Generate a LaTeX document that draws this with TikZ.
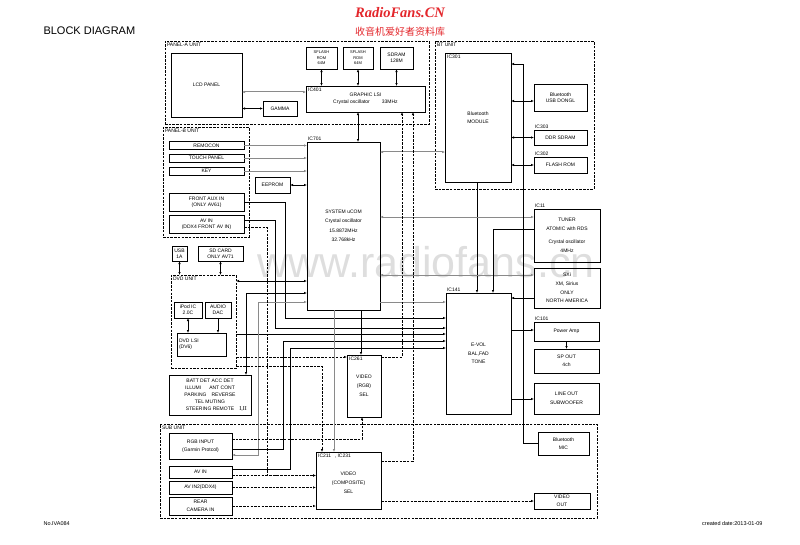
\documentclass[tikz,border=0pt]{standalone}
\usepackage{fontspec}
\setmainfont{Liberation Sans}
\newfontfamily\cjk{Noto Sans CJK SC}
\newfontfamily\tms{Liberation Serif}
\usetikzlibrary{arrows.meta}
\definecolor{wmred}{HTML}{E3262B}
\definecolor{wmgray}{HTML}{DEDEDE}
\definecolor{lngray}{HTML}{8A8A8A}

\begin{document}
\begin{tikzpicture}[x=1pt, y=-1pt,
  >={Latex[length=3pt, width=2.4pt]},
  blk/.style={draw, line width=0.6pt, inner sep=0.5pt, outer sep=0pt, align=center,
              font=\fontsize{5}{6.4}\selectfont},
  unit/.style={draw, line width=0.7pt, dash pattern=on 2.5pt off 1.2pt, inner sep=0pt, outer sep=0pt},
  unitlbl/.style={anchor=north west, inner sep=1.8pt, font=\fontsize{5}{6}\selectfont},
  iclbl/.style={anchor=south west, inner sep=0.8pt, font=\fontsize{5}{6}\selectfont},
  icin/.style={anchor=north west, inner sep=2pt, font=\fontsize{5}{6}\selectfont},
  wire/.style={line width=0.6pt},
  gwire/.style={line width=0.6pt, draw=lngray},
  dwire/.style={line width=0.7pt, dash pattern=on 2.5pt off 1.2pt},
  dbl/.style={draw=lngray, double=white, double distance=0.8pt, line width=0.4pt},
]
\useasboundingbox (0,0) rectangle (800,544);

% watermark and title
\node[font=\fontsize{43}{48}\selectfont, text=wmgray] (wmbig) at (426,262) {www.radiofans.cn};
\node[font=\tms\bfseries\itshape\fontsize{14.5}{16}\selectfont, text=wmred] (wmtop) at (400,13) {RadioFans.CN};
\node[font=\cjk\fontsize{10}{12}\selectfont, text=wmred] (wmcn) at (400,32) {收音机爱好者资料库};
\node[anchor=west, font=\fontsize{11}{13}\selectfont] (title) at (40,31) {BLOCK DIAGRAM};
\node[anchor=west, font=\fontsize{5.5}{6}\selectfont] (docno) at (40,524) {No.IVA084};
\node[anchor=east, font=\fontsize{5.5}{6}\selectfont] (cdate) at (766,524) {created date:2013-01-09};

% ---------------- PANEL-A ----------------
\node[unit, minimum width=264pt, minimum height=83pt, label={[unitlbl]north west:PANEL-A UNIT}] (panela) at (297,82.5) {};
\node[blk, minimum width=71pt, minimum height=64pt] (lcd) at (206.5,85) {LCD PANEL};
\node[blk, minimum width=34pt, minimum height=15pt] (gamma) at (280,108.5) {GAMMA};
\node[blk, minimum width=119pt, minimum height=26pt, label={[icin]north west:IC401}] (ic401) at (365.5,99)
  {GRAPHIC LSI\\[1pt]Crystal oscillator\hspace{12pt}33MHz};
\node[blk, minimum width=31pt, minimum height=22pt, font=\fontsize{4}{5.6}\selectfont] (rom1) at (321.5,58) {SFLASH\\ROM\\64M};
\node[blk, minimum width=30pt, minimum height=22pt, font=\fontsize{4}{5.6}\selectfont] (rom2) at (358,58) {SFLASH\\ROM\\64M};
\node[blk, minimum width=33pt, minimum height=22pt] (sdram) at (396.5,58) {SDRAM\\128M};

\draw[dbl, <->] (lcd.east |- 0,92) -- (ic401.west |- 0,92);
\draw[wire, <->] (lcd.east |- gamma.west) -- (gamma.west);
\foreach \m in {rom1, rom2, sdram}
  \draw[wire, <->] (\m.south) -- (\m.south |- ic401.north);

% ---------------- PANEL-B ----------------
\node[unit, minimum width=86pt, minimum height=110pt, label={[unitlbl]north west:PANEL-B UNIT}] (panelb) at (206,182) {};
\node[blk, minimum width=75pt, minimum height=8pt] (remocon) at (206.5,145.5) {REMOCON};
\node[blk, minimum width=75pt, minimum height=8pt] (touch) at (206.5,158) {TOUCH PANEL};
\node[blk, minimum width=75pt, minimum height=8pt] (key) at (206.5,171) {KEY};
\node[blk, minimum width=75pt, minimum height=18pt] (frontaux) at (206.5,202) {FRONT AUX IN\\(ONLY AV61)};
\node[blk, minimum width=75pt, minimum height=18pt] (avin) at (206.5,224) {AV IN\\(DDX4 FRONT AV IN)};
\node[blk, minimum width=35pt, minimum height=16pt] (eeprom) at (272.5,185) {EEPROM};

% ---------------- IC701 ----------------
\node[blk, minimum width=73pt, minimum height=168pt, font=\fontsize{5}{9.5}\selectfont,
      label={[iclbl]north west:IC701}] (ic701) at (343.5,226)
  {SYSTEM uCOM\\Crystal oscillator\\15.8872MHz\\32.768kHz};

\foreach \b in {remocon, touch, key}
  \draw[gwire, ->] (\b.east) -- (\b.east -| ic701.west);
\draw[wire, <->] (eeprom.east) -- (eeprom.east -| ic701.west);
\draw[wire, <->] (ic401.south -| 358,0) -- (ic701.north -| 358,0);

% ---------------- USB / SD / DVD ----------------
\node[blk, minimum width=15pt, minimum height=15pt] (usb) at (179.5,253.5) {USB\\1A};
\node[blk, minimum width=45pt, minimum height=15pt] (sdcard) at (220.5,253.5) {SD CARD\\ONLY AV71};
\node[unit, minimum width=65pt, minimum height=93pt, label={[unitlbl]north west:DVD UNIT}] (dvdunit) at (203.5,321.5) {};
\node[blk, minimum width=28pt, minimum height=16pt] (ipod) at (188,310) {iPod IC\\2.0C};
\node[blk, minimum width=26pt, minimum height=16pt] (dac) at (218,310) {AUDIO\\DAC};
\node[blk, minimum width=49pt, minimum height=23pt, text width=45pt, align=left] (dvdlsi) at (201.5,344.5) {DVD LSI\\(DV6)};
\node[blk, minimum width=82pt, minimum height=40pt, font=\fontsize{5}{7}\selectfont] (batt) at (210,395)
  {BATT DET ACC DET\\ILLUMI\hspace{8pt}ANT CONT\\PARKING\hspace{5pt}REVERSE\\TEL MUTING\\STEERING REMOTE\hspace{22pt}};
\node[font=\tms\fontsize{6}{7}\selectfont, inner sep=0pt] (battno) at (243,409) {I,II};

\draw[wire, <->] (usb.south) -- (usb.south |- dvdunit.north);
\draw[wire, <->] (sdcard.south) -- (sdcard.south |- dvdunit.north);
\draw[wire, <->] (ipod.south) -- (ipod.south |- dvdlsi.north);
\draw[wire, ->] (dac.south) -- (dac.south |- dvdlsi.north);
\draw[wire, <->] (dvdunit.east |- 0,281) -- (ic701.west |- 0,281);
\draw[wire, <->] (batt.north -| 246,0) |- (ic701.west |- 0,293);

% ---------------- IC261 / IC141 ----------------
\node[blk, minimum width=34pt, minimum height=62pt, font=\fontsize{5}{9}\selectfont,
      label={[icin]north west:IC261}] (ic261) at (364,386) {VIDEO\\(RGB)\\SEL};
\node[blk, minimum width=65pt, minimum height=121pt, font=\fontsize{5}{8.5}\selectfont,
      label={[iclbl]north west:IC141}] (ic141) at (478.5,353.5) {E-VOL\\BAL,FAD\\TONE};

\draw[wire, ->] (frontaux.east) -| (285,318) -- (ic141.west |- 0,318);
\draw[wire, ->] (avin.east |- 0,220) -| (275,328) -- (ic141.west |- 0,328);
\draw[wire, ->] (dvdunit.east |- 0,334) -- (ic141.west |- 0,334);
\draw[dwire, ->] (dvdunit.east |- 0,357) -- (ic261.west |- 0,357);
\draw[gwire, ->] (ic701.east |- 0,302) -- (ic141.west |- 0,302);
\draw[wire, ->] (ic701.south -| 361,0) -- (ic261.north -| 361,0);

% ---------------- BT UNIT ----------------
\node[unit, minimum width=159pt, minimum height=148pt, label={[unitlbl]north west:BT UNIT}] (btunit) at (514.5,115) {};
\node[blk, minimum width=66pt, minimum height=129pt, font=\fontsize{5}{8}\selectfont,
      label={[icin]north west:IC301}] (ic301) at (478,117.5) {Bluetooth\\MODULE};
\node[blk, minimum width=53pt, minimum height=27pt] (dongle) at (560.5,97.5) {Bluetooth\\USB DONGL};
\node[blk, minimum width=53pt, minimum height=15pt, label={[iclbl]north west:IC303}] (ddr) at (560.5,137.5) {DDR SDRAM};
\node[blk, minimum width=53pt, minimum height=16pt, label={[iclbl]north west:IC302}] (flash) at (560.5,165) {FLASH ROM};

\draw[wire, <->] (ic301.east |- 0,101) -- (dongle.west |- 0,101);
\draw[wire, <->] (ic301.east |- ddr.west) -- (ddr.west);
\draw[wire, <->] (ic301.east |- flash.west) -- (flash.west);
\draw[dbl, <->] (ic701.east |- 0,152) -- (ic301.west |- 0,152);
\draw[wire, ->] (ic301.south -| 477,0) -- (ic141.north -| 477,0);

% ---------------- TUNER / SXi / AMP ----------------
\node[blk, minimum width=66pt, minimum height=53pt, font=\fontsize{5}{8.5}\selectfont,
      label={[iclbl]north west:IC11}] (tuner) at (567,235.5)
  {TUNER\\ATOMIC with RDS\\[5pt]Crystal oscillator\\4MHz};
\node[blk, minimum width=66pt, minimum height=40pt, font=\fontsize{5}{8.8}\selectfont] (sxi) at (567,288)
  {SXi\\XM, Sirius\\ONLY\\NORTH AMERICA};
\node[blk, minimum width=65pt, minimum height=19pt, label={[iclbl]north west:IC101}] (pamp) at (566.5,331.5) {Power Amp};
\node[blk, minimum width=65pt, minimum height=24pt, font=\fontsize{5}{8.5}\selectfont] (spout) at (566.5,361) {SP OUT\\4ch};
\node[blk, minimum width=65pt, minimum height=31pt, font=\fontsize{5}{8.5}\selectfont] (lineout) at (566.5,398.5) {LINE OUT\\SUBWOOFER};

\draw[gwire, <->] (ic701.east |- 0,217) -- (tuner.west |- 0,217);
\draw[gwire, <->] (ic701.east |- 0,275) -- (sxi.west |- 0,275);
\draw[wire, ->] (tuner.west |- 0,229) -| (ic141.north -| 493,0);
\draw[wire, ->] (sxi.west |- 0,298) -- (ic141.east |- 0,298);
\draw[wire, ->] (ic141.east |- 0,330) -- (pamp.west |- 0,330);
\draw[wire, ->] (pamp.south) -- (spout.north);
\draw[wire, ->] (ic141.east |- 0,399) -- (lineout.west |- 0,399);

% ---------------- SUB UNIT ----------------
\node[unit, minimum width=437pt, minimum height=94pt, label={[unitlbl]north west:SUB UNIT}] (subunit) at (378.5,471) {};
\node[blk, minimum width=63pt, minimum height=26pt, font=\fontsize{5}{8}\selectfont] (rgb) at (200.5,446) {RGB INPUT\\(Garmin Protcol)};
\node[blk, minimum width=63pt, minimum height=12pt] (subav) at (200.5,472) {AV IN};
\node[blk, minimum width=63pt, minimum height=13pt] (avin2) at (200.5,487.5) {AV IN2(DDX4)};
\node[blk, minimum width=63pt, minimum height=18pt, font=\fontsize{5}{8}\selectfont] (rear) at (200.5,506) {REAR\\CAMERA IN};
\node[blk, minimum width=65pt, minimum height=57pt, font=\fontsize{5}{9}\selectfont,
      label={[icin]north west:IC211\hspace{4pt},\hspace{1pt}IC231}] (ic211) at (348.5,480.5) {\\VIDEO\\(COMPOSITE)\\SEL};
\node[blk, minimum width=51pt, minimum height=23pt, font=\fontsize{5}{8}\selectfont] (mic) at (563.5,443.5) {Bluetooth\\MIC};
\node[blk, minimum width=56pt, minimum height=16pt, font=\fontsize{5}{8}\selectfont] (vidout) at (562,501) {VIDEO\\OUT};

\draw[gwire, <->] (rgb.east |- 0,455) -| (258,302) -- (ic701.west |- 0,302);
\draw[dwire, ->] (rgb.east |- 0,439) -| (ic261.south -| 362,0);
\draw[wire, ->] (rgb.east |- 0,449) -| (283,341) -- (ic141.west |- 0,341);
\draw[wire, ->] (subav.east |- 0,469.5) -| (290,348) -- (ic141.west |- 0,348);
\draw[dwire, ->] (avin.east |- 0,227) -| (267,475.5) -- (ic211.west |- 0,475.5);
\draw[dwire, ->] (subav.east |- 0,475.5) -- (ic211.west |- 0,475.5);
\draw[dwire, ->] (avin2.east) -- (avin2.east -| ic211.west);
\draw[dwire, ->] (rear.east) -- (rear.east -| ic211.west);
\draw[dwire, ->] (dvdunit.east |- 0,366) -| (ic211.north -| 322,0);
\draw[gwire, ->] (ic701.south -| 334,0) -- (ic211.north -| 334,0);
\draw[dwire, ->] (ic261.east |- 0,357) -| (ic401.south -| 402,0);
\draw[dwire, ->] (ic211.east |- 0,461) -| (ic401.south -| 413,0);
\draw[dwire, ->] (ic211.east |- 0,501) -- (vidout.west |- 0,501);
\draw[wire, ->] (mic.west) -| (523,64) -- (ic301.east |- 0,64);

\end{tikzpicture}
\end{document}
